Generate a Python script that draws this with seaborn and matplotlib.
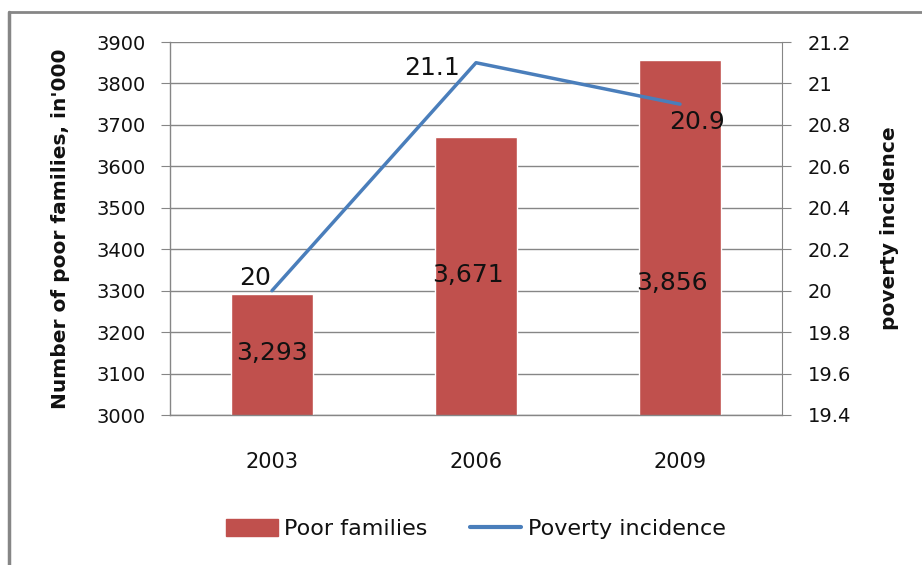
import numpy as np
import pandas as pd
import matplotlib
matplotlib.use("Agg")
import matplotlib.pyplot as plt
from matplotlib.lines import Line2D
from matplotlib.patches import Patch
import seaborn as sns

# data
years = ["2003", "2006", "2009"]
poor_families = [3293, 3671, 3856]
poverty_incidence = [20.0, 21.1, 20.9]
bar_labels = ["3,293", "3,671", "3,856"]
line_labels = ["20", "21.1", "20.9"]

bar_color = "#C0504D"
line_color = "#4A7EBB"
grey = "#868686"
ink = "#111111"

sns.set_style("white")
plt.rcParams['font.family'] = ['DejaVu Sans']

df = pd.DataFrame({"year": years, "families": poor_families, "incidence": poverty_incidence})

fig = plt.figure(figsize=(9.22, 5.65), dpi=100)
ax = fig.add_axes([170 / 922, 1 - 415 / 565, 612 / 922, 373 / 565])

sns.barplot(data=df, x="year", y="families", color=bar_color, width=0.40,
            saturation=1, ax=ax, zorder=2)
ax.set_xlim(-0.5, 2.5)
ax.set_ylim(3000, 3900)
ax.set_yticks(np.arange(3000, 3901, 100))
ax.grid(axis="y", color=grey, lw=1, zorder=0)
ax.set_axisbelow(True)

for s in ["top", "right"]:
    ax.spines[s].set_visible(False)
for s in ["left", "bottom"]:
    ax.spines[s].set_color(grey)
    ax.spines[s].set_linewidth(1)

ax.set_xticks([-0.5, 0.5, 1.5, 2.5], minor=True)
ax.tick_params(axis="x", which="major", length=0, pad=27, labelsize=15, labelcolor=ink)
ax.tick_params(axis="x", which="minor", length=6.5, color=grey, direction="out")
ax.tick_params(axis="y", length=6.5, color=grey, direction="out", labelsize=14,
               pad=11, labelcolor=ink)
ax.set_xlabel("")
ax.set_ylabel("Number of poor families, in'000", fontsize=14.5, fontweight="bold",
              labelpad=19, color=ink)

# bar labels where they sit in the picture
label_y = [3150, 3338, 3319]
label_dx = [0, -0.04, -0.04]
for i, (t, yv) in enumerate(zip(bar_labels, label_y)):
    ax.text(i + label_dx[i], yv, t, ha="center", va="center", fontsize=18, color=ink, zorder=5)

ax2 = ax.twinx()
sns.lineplot(data=df, x="year", y="incidence", color=line_color, lw=2.5, ax=ax2, zorder=4)
ax2.set_ylim(19.4, 21.2)
ticks2 = np.round(np.arange(19.4, 21.21, 0.2), 1)
ax2.set_yticks(ticks2)
ax2.set_yticklabels([f"{v:g}" for v in ticks2])
ax2.set_xlim(-0.5, 2.5)
for s in ["top", "left", "bottom"]:
    ax2.spines[s].set_visible(False)
ax2.spines["right"].set_color(grey)
ax2.tick_params(axis="y", length=6.5, color=grey, direction="out", labelsize=14,
                pad=12, labelcolor=ink)
ax2.set_ylabel("poverty incidence", fontsize=14.5, fontweight="bold", labelpad=21, color=ink)
ax2.set_xlabel("")

offsets = [(-12, 9), (-32, -4), (12, -13)]
for i, (t, v) in enumerate(zip(line_labels, poverty_incidence)):
    ax2.annotate(t, (i, v), xytext=offsets[i], textcoords="offset points",
                 ha="center", va="center", fontsize=18, color=ink)

handles = [Patch(color=bar_color), Line2D([0], [0], color=line_color, lw=3)]
fig.legend(handles, ["Poor families", "Poverty incidence"], loc="center",
           bbox_to_anchor=(476 / 922, 1 - 529 / 565), ncol=2, frameon=False,
           fontsize=16, handlelength=2.3, handleheight=0.8, columnspacing=1.9,
           handletextpad=0.3, labelcolor=ink)

# outer chart frame (left and top edges visible)
fig.add_artist(Line2D([9 / 922, 9 / 922], [0, 1 - 12 / 565], color=grey, lw=2.5,
                      transform=fig.transFigure))
fig.add_artist(Line2D([9 / 922, 1], [1 - 12 / 565, 1 - 12 / 565], color=grey, lw=2,
                      transform=fig.transFigure))

fig.savefig("out.png", dpi=100)
